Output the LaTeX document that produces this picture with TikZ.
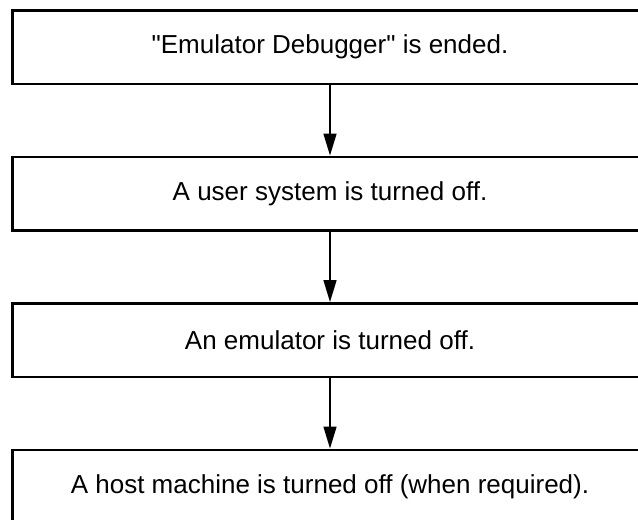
\documentclass[tikz,border=0pt]{standalone}
\usepackage{fontspec}
\setmainfont{Liberation Sans}
\usepackage{tikz}
\usetikzlibrary{arrows.meta}
\usetikzlibrary{positioning}
\tikzstyle{stage}=[draw,rectangle,line width=2.5pt,minimum width=635pt,minimum height=73.5pt,inner sep=0pt,font=\fontsize{26}{31}\selectfont]

\begin{document}
\begin{tikzpicture}[node distance=70.5pt,>={Triangle[length=22pt,width=13pt]}]
\tikzstyle{flow}=[->,line width=1.6pt]
\useasboundingbox (0,0) rectangle (638pt,-520pt);
    \node [stage] (ended) at (330pt,-47pt) {\textquotedbl Emulator Debugger\textquotedbl\ is ended.};
    \node [stage,below=of ended] (user) {A user system is turned off.};
    \node [stage,below=of user] (emu) {An emulator is turned off.};
    \node [stage,below=of emu] (host) {A host machine is turned off (when required).};

%\draw[flow] (ended.south) -- (user.north);
\draw[flow] (ended) -- (user);
\draw[flow] (user) -- (emu);
\draw[flow] (emu) -- (host);
\end{tikzpicture}
\end{document}
